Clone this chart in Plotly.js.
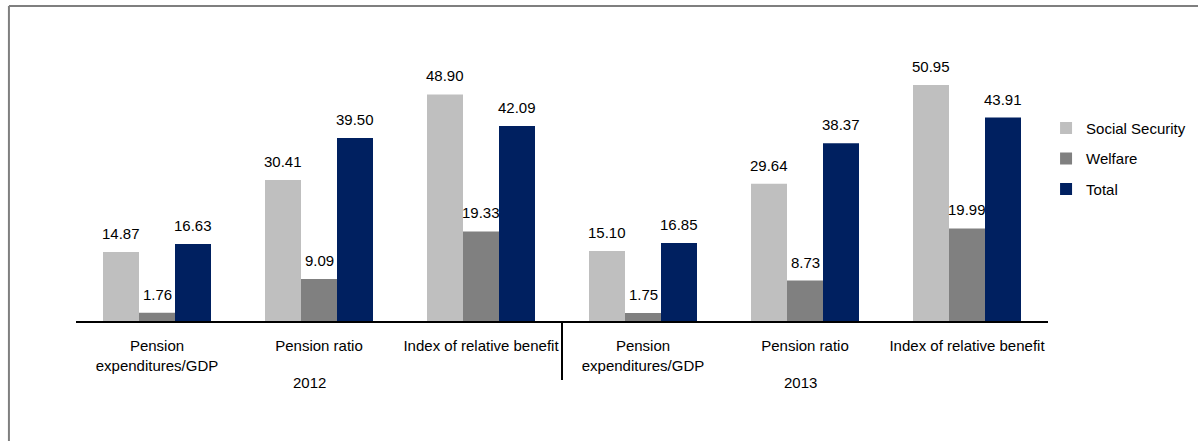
<!DOCTYPE html>
<html>
<head>
<meta charset="utf-8">
<script src="https://cdn.plot.ly/plotly-3.0.1.min.js"></script>
<style>html,body{margin:0;padding:0;background:#fff;}#chart{width:1198px;height:441px;}</style>
</head>
<body>
<div id="chart"></div>
<script>
var categories = ["Pension<br>expenditures/GDP", "Pension ratio", "Index of relative benefit",
                  "Pension<br>expenditures/GDP", "Pension ratio", "Index of relative benefit"];
var years = ["2012", "2013"];
var socialSecurity = [14.87, 30.41, 48.90, 15.10, 29.64, 50.95];
var welfare = [1.76, 9.09, 19.33, 1.75, 8.73, 19.99];
var total = [16.63, 39.50, 42.09, 16.85, 38.37, 43.91];
var seriesNames = ["Social Security", "Welfare", "Total"];

var colors = ["#bfbfbf", "#808080", "#002060"];
var seriesData = [socialSecurity, welfare, total];
var xIdx = categories.map(function (_, i) { return i; });
var barW = 36 / 162;
var FONT = "Liberation Sans, Arial, sans-serif";

var traces = seriesData.map(function (vals, s) {
  return {
    type: "bar", x: xIdx, y: vals, name: seriesNames[s],
    marker: {color: colors[s], line: {width: 0}},
    legendgroup: "g" + s, hoverinfo: "y"
  };
});

var annotations = [];
seriesData.forEach(function (vals, s) {
  vals.forEach(function (v, i) {
    annotations.push({
      x: i + (s - 1) * barW, y: v, xref: "x", yref: "y",
      text: v.toFixed(2), showarrow: false, yanchor: "bottom", yshift: 8,
      font: {family: FONT, size: 15, color: "#000"}
    });
  });
});
var yearX = [0.94, 3.97];
years.forEach(function (yr, k) {
  annotations.push({
    x: yearX[k], y: -0.22, xref: "x", yref: "paper", text: yr, showarrow: false,
    yanchor: "middle",
    font: {family: FONT, size: 15, color: "#000"}
  });
});

var layout = {
  width: 1198, height: 441,
  margin: {l: 76, r: 150, t: 43, b: 120, autoexpand: false},
  paper_bgcolor: "#fff", plot_bgcolor: "#fff",
  font: {family: FONT, size: 15, color: "#000"},
  barmode: "group", bargap: 0.3333, bargroupgap: 0,
  xaxis: {
    range: [-0.5, 5.5], tickvals: xIdx, ticktext: categories, automargin: false,
    showgrid: false, zeroline: false, showline: true, linecolor: "#000", linewidth: 2,
    ticks: "", ticklabelstandoff: 10, tickfont: {size: 15, color: "#000"}
  },
  yaxis: {
    range: [0, 60], showgrid: false, zeroline: false, showline: false,
    showticklabels: false, ticks: ""
  },
  legend: {
    x: 0.998, xanchor: "left", y: 0.753, yanchor: "top",
    font: {size: 15, color: "#000"}, tracegroupgap: 8, traceorder: "grouped",
    bgcolor: "rgba(0,0,0,0)"
  },
  annotations: annotations,
  shapes: [
    {type: "line", xref: "x", yref: "paper", x0: 2.5, x1: 2.5, y0: 0, y1: -0.212,
     line: {color: "#000", width: 2}},
    {type: "line", xref: "paper", yref: "paper", x0: -0.069, x1: 1.16, y0: 1.133, y1: 1.133,
     line: {color: "#7f7f7f", width: 2}},
    {type: "line", xref: "paper", yref: "paper", x0: -0.069, x1: -0.069, y0: 1.133, y1: -0.45,
     line: {color: "#7f7f7f", width: 2}}
  ]
};

Plotly.newPlot("chart", traces, layout, {displayModeBar: false, staticPlot: true});
</script>
</body>
</html>
